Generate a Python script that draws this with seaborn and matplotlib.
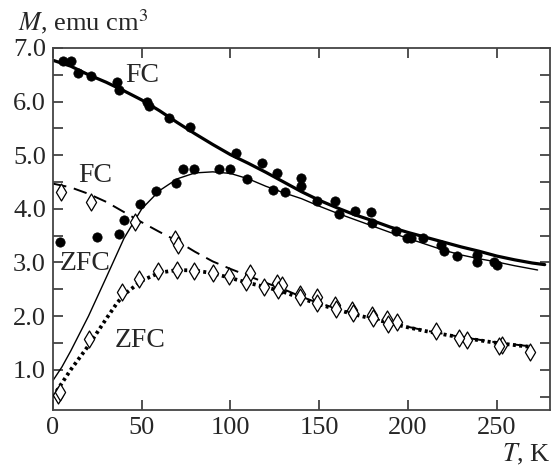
import matplotlib
matplotlib.use("Agg")
import numpy as np
import pandas as pd
import matplotlib.pyplot as plt
import seaborn as sns

# FC, circulos llenos
fc_full_T = [5.5, 10, 14.3, 21.3, 35.9, 37.1, 52.9, 54.2, 65.5, 77.3, 102.9, 117.5,
             126.2, 139.9, 148.8, 158.7, 170.4, 178.9, 193, 218.4, 238.7, 248.5]
fc_full_M = [6.76, 6.76, 6.53, 6.48, 6.37, 6.22, 5.99, 5.92, 5.69, 5.52, 5.04, 4.86,
             4.67, 4.57, 4.15, 4.15, 3.96, 3.94, 3.59, 3.32, 3.14, 3.01]
# ZFC, circulos llenos
zfc_full_T = [4.0, 24.8, 37.2, 40.1, 49.3, 58.1, 69.4, 73.5, 79.6, 93.3, 99.5, 109.1,
              124, 130.5, 139.9, 161, 179.9, 199.2, 201.9, 208.6, 220.3, 227.8, 238.7, 250]
zfc_full_M = [3.39, 3.47, 3.54, 3.79, 4.09, 4.34, 4.49, 4.74, 4.74, 4.74, 4.74, 4.55,
              4.36, 4.31, 4.43, 3.90, 3.73, 3.45, 3.45, 3.45, 3.22, 3.13, 3.00, 2.95]
# FC, rombos abiertos
fc_open_T = [4.3, 21.3, 46.3, 68.8, 70.7, 111.2, 126.2, 129, 139.4, 148.8, 159, 168.6,
             179.5, 188.3, 193.6, 215.6, 233.4, 253.2, 268.8]
fc_open_M = [4.32, 4.13, 3.76, 3.43, 3.32, 2.80, 2.62, 2.58, 2.41, 2.35, 2.21, 2.11,
             2.02, 1.94, 1.89, 1.72, 1.55, 1.46, 1.33]
# ZFC, rombos abiertos
zfc_open_T = [3, 4, 20.5, 38.8, 48.7, 59.4, 69.8, 79.6, 90.1, 98.9, 109, 118.7, 127,
              139.4, 149, 159.7, 169, 180, 189, 228.7, 251]
zfc_open_M = [0.53, 0.59, 1.58, 2.45, 2.70, 2.84, 2.86, 2.85, 2.81, 2.75, 2.64, 2.55, 2.49,
              2.36, 2.24, 2.14, 2.05, 1.96, 1.86, 1.60, 1.44]

# --- curvas de ajuste ---
fc_fit_T = [0, 10, 20, 30, 40, 50, 60, 70, 80, 90, 100, 110, 120, 130, 140, 150, 160,
            170, 180, 190, 200, 210, 220, 230, 240, 250, 260, 270, 277]
fc_fit_M = [6.77, 6.66, 6.50, 6.36, 6.20, 6.03, 5.83, 5.61, 5.40, 5.20, 5.01, 4.85, 4.68,
            4.50, 4.32, 4.16, 4.02, 3.89, 3.78, 3.66, 3.56, 3.47, 3.38, 3.29, 3.21, 3.12,
            3.05, 2.99, 2.96]
zfc_fit_T = [0, 5, 10, 20, 30, 40, 50, 60, 70, 80, 90, 100, 110, 120, 130, 140, 150, 160,
             170, 180, 190, 200, 210, 220, 230, 240, 250, 260, 273]
zfc_fit_M = [0.80, 1.05, 1.35, 2.00, 2.72, 3.45, 4.00, 4.34, 4.56, 4.67, 4.69, 4.66, 4.56,
             4.42, 4.30, 4.19, 4.05, 3.92, 3.80, 3.68, 3.56, 3.45, 3.34, 3.23, 3.14, 3.07,
             3.01, 2.94, 2.86]
fc2_fit_T = [0, 10, 20, 30, 40, 50, 60, 70, 80, 90, 100, 110, 120, 130, 140, 150, 160,
             170, 180, 190, 200, 210, 220, 230, 240, 250, 260, 268]
fc2_fit_M = [4.47, 4.40, 4.28, 4.13, 3.94, 3.75, 3.57, 3.40, 3.20, 3.02, 2.88, 2.75, 2.62,
             2.50, 2.36, 2.24, 2.14, 2.05, 1.96, 1.88, 1.80, 1.73, 1.67, 1.61, 1.56, 1.51,
             1.47, 1.44]
zfc2_fit_T = [0, 10, 20, 30, 36, 40, 50, 60, 70, 80, 90, 100, 110, 120, 130, 140, 150,
              160, 170, 180, 190, 200, 210, 220, 230, 240, 250, 260, 268]
zfc2_fit_M = [0.50, 1.00, 1.45, 1.95, 2.24, 2.40, 2.66, 2.81, 2.86, 2.85, 2.80, 2.71, 2.62,
              2.54, 2.45, 2.33, 2.22, 2.12, 2.03, 1.95, 1.87, 1.79, 1.72, 1.66, 1.60, 1.55,
              1.50, 1.46, 1.43]

sns.set_theme(style="ticks")
plt.rcParams['font.family'] = ['Liberation Serif', 'DejaVu Serif']
plt.rcParams['mathtext.fontset'] = 'stix'

fig = plt.figure(figsize=(5.53, 4.70), dpi=100)
ax = fig.add_axes([0.0958, 0.1277, 0.8988, 0.7703])

sns.lineplot(x=fc_fit_T, y=fc_fit_M, ax=ax, color='black', lw=2.3, sort=False)
sns.lineplot(x=zfc_fit_T, y=zfc_fit_M, ax=ax, color='black', lw=1.0, sort=False)
sns.lineplot(x=fc2_fit_T, y=fc2_fit_M, ax=ax, color='black', lw=1.4, sort=False,
             linestyle=(0, (7, 4)))
sns.lineplot(x=zfc2_fit_T, y=zfc2_fit_M, ax=ax, color='black', lw=2.7, sort=False,
             linestyle=(0, (0.8, 0.9)))

sns.scatterplot(x=fc_full_T, y=fc_full_M, ax=ax, color='black', s=45, edgecolor='black',
                linewidth=0.5, zorder=5)
sns.scatterplot(x=zfc_full_T, y=zfc_full_M, ax=ax, color='black', s=45, edgecolor='black',
                linewidth=0.5, zorder=5)
sns.scatterplot(x=fc_open_T, y=fc_open_M, ax=ax, marker='d', s=75, facecolor='white',
                edgecolor='black', linewidth=0.9, zorder=5)
sns.scatterplot(x=zfc_open_T, y=zfc_open_M, ax=ax, marker='d', s=75, facecolor='white',
                edgecolor='black', linewidth=0.9, zorder=5)

fs = 20
ax.text(40.6, 6.37, 'FC', fontsize=fs, ha='left', va='baseline')
ax.text(14.1, 4.50, 'FC', fontsize=fs, ha='left', va='baseline')
ax.text(3.9, 2.86, 'ZFC', fontsize=fs, ha='left', va='baseline')
ax.text(35.0, 1.42, 'ZFC', fontsize=fs, ha='left', va='baseline')

ax.set_xlim(0, 280)
ax.set_ylim(0.25, 7.0)
ax.set_xticks([0, 50, 100, 150, 200, 250])
ax.set_yticks([1, 2, 3, 4, 5, 6, 7])
ax.set_yticklabels([f'{v:.1f}' for v in [1, 2, 3, 4, 5, 6, 7]])
ax.set_yticks(np.arange(0.5, 7.0, 1.0), minor=True)
ax.tick_params(which='both', direction='in', top=True, right=True, labelsize=19,
               color='#333333', pad=5)
ax.tick_params(which='major', length=7, width=1.2)
ax.tick_params(which='minor', length=7, width=1.2)
for s in ax.spines.values():
    s.set_color('#444444')
    s.set_linewidth(1.3)

fig.text(0.032, 0.935, r'$M$, emu cm$^3$', fontsize=19, ha='left', va='baseline')
fig.text(0.995, 0.018, r'$T$, K', fontsize=19, ha='right', va='baseline')

fig.savefig('out.png', dpi=100)
